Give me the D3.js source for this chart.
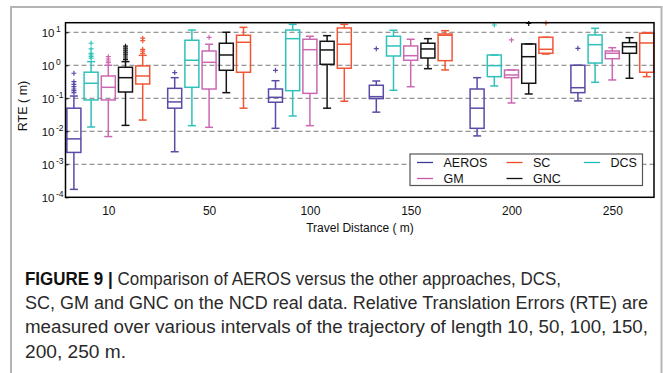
<!DOCTYPE html>
<html>
<head>
<meta charset="utf-8">
<script src="https://cdn.jsdelivr.net/npm/d3@7"></script>
<style>
  body { margin: 0; background: #fff; }
  svg { display: block; font-family: "Liberation Sans", Arial, Helvetica, sans-serif; }
</style>
</head>
<body>
<svg id="chart" width="663" height="373"></svg>
<script>
// Travel distances (m) and compared methods
const distances = ["10", "50", "100", "150", "200", "250"];
const methods = ["AEROS", "DCS", "GM", "GNC", "SC"];
const legendOrder = ["AEROS", "SC", "DCS", "GM", "GNC"];

// Box statistics per distance: [lower whisker, Q1, median, Q3, upper whisker], RTE in m
const aerosStats = [
  [1.74e-4, 2.29e-3, 5.89e-3, 0.0501, 0.117],
  [2.40e-3, 0.0501, 0.0776, 0.200, 0.421],
  [0.0123, 0.0759, 0.107, 0.191, 0.341],
  [0.0380, 0.0977, 0.112, 0.248, 0.334],
  [7.24e-3, 0.0123, 0.0501, 0.191, 0.421],
  [0.0832, 0.148, 0.209, 1.00, 1.00]
];
const dcsStats = [
  [0.0135, 0.0891, 0.285, 0.617, 1.29],
  [0.0148, 0.215, 1.42, 5.73, 11.7],
  [0.0291, 0.170, 6.40, 11.7, 17.4],
  [0.175, 1.91, 3.85, 7.57, 11.5],
  [0.236, 0.452, 0.973, 2.05, 2.05],
  [0.305, 1.17, 4.21, 8.28, 13.2]
];
const gmStats = [
  [6.92e-3, 0.0891, 0.215, 0.474, 1.00],
  [0.0132, 0.191, 1.23, 2.71, 4.33],
  [0.0148, 0.141, 2.97, 6.14, 7.57],
  [0.224, 1.42, 1.95, 3.85, 6.14],
  [0.0721, 0.421, 0.508, 0.721, 0.721],
  [0.359, 1.58, 2.31, 2.71, 3.41]
];
const gncStats = [
  [0.0151, 0.155, 0.421, 0.871, 1.29],
  [0.148, 0.705, 2.05, 4.65, 10.0],
  [0.0501, 1.07, 2.91, 5.33, 7.89],
  [0.789, 1.66, 3.12, 4.65, 6.40],
  [0.135, 0.285, 1.82, 4.42, 4.42],
  [0.404, 2.31, 3.66, 4.84, 6.85]
];
const scStats = [
  [0.0219, 0.271, 0.474, 0.955, 2.00],
  [0.0501, 0.614, 4.98, 8.11, 14.1],
  [0.0813, 0.813, 4.33, 13.5, 17.4],
  [0.721, 1.38, 8.11, 8.87, 11.2],
  [2.19, 2.31, 3.05, 7.05, 7.05],
  [0.452, 0.614, 4.74, 9.33, 9.77]
];

// Outliers per distance, RTE in m
const aerosOutliers = [
  [0.573, 0.318, 0.265, 0.225, 0.191, 0.170, 0.148],
  [0.603], [0.705], [3.18], [], [3.27]
];
const dcsOutliers = [
  [4.65, 3.12, 2.31, 2.05, 1.82, 1.63],
  [], [], [], [16.6], []
];
const gmOutliers = [
  [1.82, 1.55, 1.35, 1.20],
  [7.05], [], [], [5.85], []
];
const gncOutliers = [
  [3.80, 3.31, 2.88, 2.51, 2.19, 1.91, 1.66, 1.48],
  [], [], [], [18.6], []
];
const scOutliers = [
  [6.61, 5.56, 3.05, 2.69, 2.29],
  [], [], [], [19.1], []
];

const yTickExponents = [-4, -3, -2, -1, 0, 1];

const series = {
  AEROS: { stats: aerosStats, outliers: aerosOutliers, color: "#5a4ba6", legend: "#3d3899" },
  DCS:   { stats: dcsStats,   outliers: dcsOutliers,   color: "#2ec2bb", legend: "#1fbdb5" },
  GM:    { stats: gmStats,    outliers: gmOutliers,    color: "#cc68b2", legend: "#c85aa8" },
  GNC:   { stats: gncStats,   outliers: gncOutliers,   color: "#141414", legend: "#111111" },
  SC:    { stats: scStats,    outliers: scOutliers,    color: "#f05636", legend: "#f04a2c" }
};

const svg = d3.select("#chart");
const plot = { left: 65.5, right: 654, top: 22.7, bottom: 197.3 };

// Outer figure frame
svg.append("rect")
  .attr("x", 11).attr("y", 7).attr("width", 650.5).attr("height", 400)
  .attr("fill", "none").attr("stroke", "#b4b4b4").attr("stroke-width", 2);

const y = d3.scaleLog()
  .domain([1e-4, Math.pow(10, 1.29)])
  .range([plot.bottom, plot.top]);

const xGroup = d3.scalePoint()
  .domain(distances)
  .range([plot.left + 42.8, plot.right - 41.7]);

const xInner = d3.scalePoint()
  .domain(methods)
  .range([-34.4, 34.4]);

const boxW = 14, capW = 8;

// Dashed decade gridlines
svg.append("g")
  .selectAll("line")
  .data(yTickExponents.filter(e => e > -4))
  .join("line")
  .attr("x1", plot.left).attr("x2", plot.right)
  .attr("y1", e => y(Math.pow(10, e))).attr("y2", e => y(Math.pow(10, e)))
  .attr("stroke", "#7a7a7a").attr("stroke-width", 1)
  .attr("stroke-dasharray", "5,3");

// Box plots
const groups = svg.append("g");
distances.forEach((dist, gi) => {
  methods.forEach(m => {
    const s = series[m];
    const [lw, q1, med, q3, uw] = s.stats[gi];
    const cx = xGroup(dist) + xInner(m);
    const g = groups.append("g")
      .attr("stroke", s.color).attr("fill", "none").attr("stroke-width", 1.5);
    // whiskers
    if (uw > q3) {
      g.append("line").attr("x1", cx).attr("x2", cx).attr("y1", y(q3)).attr("y2", y(uw));
    }
    g.append("line").attr("x1", cx - capW / 2).attr("x2", cx + capW / 2).attr("y1", y(uw)).attr("y2", y(uw));
    if (lw < q1) {
      g.append("line").attr("x1", cx).attr("x2", cx).attr("y1", y(q1)).attr("y2", y(lw));
    }
    g.append("line").attr("x1", cx - capW / 2).attr("x2", cx + capW / 2).attr("y1", y(lw)).attr("y2", y(lw));
    // box and median
    g.append("rect")
      .attr("x", cx - boxW / 2).attr("y", y(q3))
      .attr("width", boxW).attr("height", Math.max(0.5, y(q1) - y(q3)));
    g.append("line").attr("x1", cx - boxW / 2).attr("x2", cx + boxW / 2).attr("y1", y(med)).attr("y2", y(med));
    // outliers as '+' markers
    s.outliers[gi].forEach(v => {
      const py = y(v);
      g.append("path")
        .attr("d", `M${cx - 2.5},${py}H${cx + 2.5}M${cx},${py - 2.5}V${py + 2.5}`)
        .attr("stroke-width", 1.2);
    });
  });
});

// Plot frame
svg.append("rect")
  .attr("x", plot.left).attr("y", plot.top)
  .attr("width", plot.right - plot.left).attr("height", plot.bottom - plot.top)
  .attr("fill", "none").attr("stroke", "#000").attr("stroke-width", 1.5);

// Y axis with power-of-ten labels
const yAxis = svg.append("g")
  .attr("transform", `translate(${plot.left},0)`)
  .call(d3.axisLeft(y).tickValues(yTickExponents.map(e => Math.pow(10, e)))
    .tickSize(-3).tickFormat(""));
yAxis.select(".domain").remove();
yAxis.selectAll(".tick line").attr("stroke", "#000");
yAxis.selectAll(".tick").each(function(d) {
  const t = d3.select(this).append("text")
    .attr("fill", "#111").attr("font-size", 11.5)
    .attr("y", 4.5);
  t.append("tspan").attr("x", -11).attr("text-anchor", "end").text("10");
  const exp = Math.round(Math.log10(d));
  t.append("tspan").attr("x", -9.5).attr("dy", -5).attr("font-size", 8.5).attr("text-anchor", "start")
    .text(exp < 0 ? "-" + Math.abs(exp) : String(exp));
});

// X axis labels
const xAxis = svg.append("g")
  .attr("transform", `translate(0,${plot.bottom})`)
  .call(d3.axisBottom(xGroup).tickSize(0).tickPadding(9));
xAxis.select(".domain").remove();
xAxis.selectAll("text")
  .attr("fill", "#111").attr("font-size", 12);

// Axis titles
svg.append("text")
  .attr("x", 360).attr("y", 232)
  .attr("text-anchor", "middle").attr("font-size", 12).attr("fill", "#111")
  .text("Travel Distance ( m)");
svg.append("text")
  .attr("transform", `translate(27,106) rotate(-90)`)
  .attr("text-anchor", "middle").attr("font-size", 12.5).attr("fill", "#111")
  .text("RTE ( m)");

// Legend
const legend = svg.append("g");
legend.append("rect")
  .attr("x", 410).attr("y", 154).attr("width", 232.5).attr("height", 31.5)
  .attr("fill", "#fff").attr("stroke", "#555").attr("stroke-width", 1.2);
const legendCols = [417, 506.5, 584];
const legendRows = [162.5, 178.5];
legendOrder.forEach((m, i) => {
  const col = i % 3, row = Math.floor(i / 3);
  const lx = legendCols[col], ly = legendRows[row];
  legend.append("line")
    .attr("x1", lx).attr("x2", lx + 16).attr("y1", ly).attr("y2", ly)
    .attr("stroke", series[m].legend).attr("stroke-width", 1.3);
  legend.append("text")
    .attr("x", lx + 26.5).attr("y", ly + 4.5)
    .attr("font-size", 12.5).attr("fill", "#111")
    .text(m);
});

// Figure caption
const captionLines = [
  { bold: "FIGURE 9 | ", text: "Comparison of AEROS versus the other approaches, DCS,", width: 536 },
  { bold: "", text: "SC, GM and GNC on the NCD real data. Relative Translation Errors (RTE) are", width: 623 },
  { bold: "", text: "measured over various intervals of the trajectory of length 10, 50, 100, 150,", width: 623 },
  { bold: "", text: "200, 250 m.", width: 101 }
];
captionLines.forEach((ln, i) => {
  const t = svg.append("text")
    .attr("x", 25).attr("y", 285 + i * 24.2)
    .attr("font-size", 17.5).attr("fill", "#2a2a2a")
    .attr("textLength", ln.width).attr("lengthAdjust", "spacingAndGlyphs");
  if (ln.bold) t.append("tspan").attr("font-weight", "bold").attr("fill", "#111").text(ln.bold);
  t.append("tspan").text(ln.text);
});
</script>
</body>
</html>
